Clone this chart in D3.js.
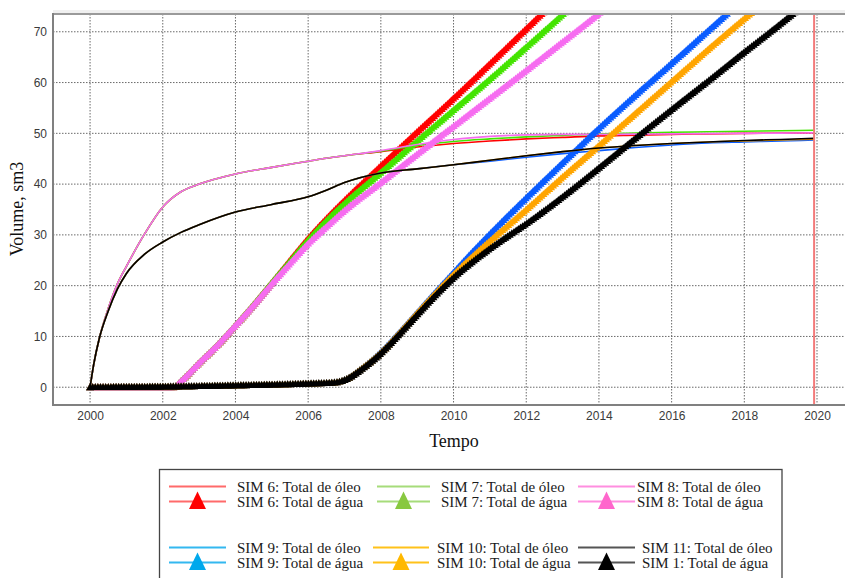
<!DOCTYPE html>
<html>
<head>
<meta charset="utf-8">
<script src="https://cdn.jsdelivr.net/npm/d3@7/dist/d3.min.js"></script>
<style>
  html, body { margin: 0; padding: 0; background: #fff; }
  svg { display: block; }
</style>
</head>
<body>
<svg id="chart" width="845" height="578"></svg>
<script>
// ---------- DATA ----------
const xTicks = [2000, 2002, 2004, 2006, 2008, 2010, 2012, 2014, 2016, 2018, 2020];
const yTicks = [0, 10, 20, 30, 40, 50, 60, 70];
const endYear = 2019.92;

const oilYears = [2000, 2000.1, 2000.25, 2000.5, 2000.75, 2001, 2001.5, 2002, 2002.5, 2003, 2004, 2005, 2006, 2006.5, 2007, 2008, 2009, 2010, 2011, 2012, 2013, 2014, 2015, 2016, 2017, 2018, 2019, 2019.92];
const sim6Oil  = [0, 4.5, 9.5, 15.5, 20.3, 23.8, 30.2, 35.5, 38.5, 40, 42, 43.3, 44.5, 45.1, 45.6, 46.4, 47.3, 48, 48.5, 48.9, 49.2, 49.5, 49.65, 49.8, 49.9, 50, 50.05, 50.1];
const sim7Oil  = [0, 4.5, 9.5, 15.5, 20.3, 23.8, 30.2, 35.5, 38.5, 40, 42, 43.3, 44.5, 45.1, 45.6, 46.5, 47.6, 48.4, 48.9, 49.3, 49.6, 49.9, 50.05, 50.2, 50.3, 50.4, 50.5, 50.6];
const sim8Oil  = [0, 4.5, 9.5, 15.5, 20.3, 23.8, 30.2, 35.5, 38.5, 40, 42, 43.3, 44.5, 45.1, 45.6, 46.6, 47.8, 48.8, 49.4, 49.7, 49.8, 49.8, 49.85, 49.9, 49.95, 50, 50.05, 50.1];
const sim9Oil  = [0, 4.5, 9.5, 15, 19.3, 22.4, 26.2, 28.6, 30.5, 32, 34.5, 36, 37.5, 38.8, 40.3, 42.2, 43, 43.8, 44.5, 45.3, 46, 46.6, 47.2, 47.7, 48.1, 48.3, 48.5, 48.7];
const sim10Oil = [0, 4.5, 9.5, 15, 19.3, 22.4, 26.2, 28.6, 30.5, 32, 34.5, 36, 37.5, 38.8, 40.3, 42.2, 43, 43.8, 44.7, 45.6, 46.4, 47.1, 47.6, 48, 48.3, 48.5, 48.7, 48.85];
const sim11Oil = [0, 4.5, 9.5, 15, 19.3, 22.4, 26.2, 28.6, 30.5, 32, 34.5, 36, 37.5, 38.8, 40.3, 42.2, 43, 43.8, 44.7, 45.6, 46.4, 47.1, 47.6, 48, 48.3, 48.6, 48.8, 49];

const waterYearsA = [2000, 2002.3, 2002.5, 2003, 2003.5, 2004, 2004.5, 2005, 2005.5, 2006, 2006.5, 2007, 2008, 2009, 2010, 2011, 2012, 2013, 2014, 2014.5];
const sim6Water = [0, 0, 1.2, 4.8, 8.3, 12.2, 16.3, 20.6, 25, 29.3, 33.2, 36.8, 43.6, 50.3, 56.9, 63.7, 70.6, 77.5, 84.5, 88];
const sim7Water = [0, 0, 1.2, 4.8, 8.3, 12.2, 16.3, 20.6, 24.8, 29, 32.8, 36.2, 42.3, 48.5, 54.6, 60.7, 67, 73.4, 80, 83.5];
const sim8Water = [0, 0, 1.2, 4.8, 8.3, 12.2, 16.2, 20.4, 24.4, 28.3, 31.6, 34.8, 40.3, 45.9, 51.4, 56.9, 62.4, 68, 73.6, 76.5];

const waterYearsB = [2000, 2002, 2004, 2006, 2006.7, 2007, 2007.5, 2008, 2008.5, 2009, 2009.5, 2010, 2010.5, 2011, 2011.5, 2012, 2013, 2014, 2015, 2016, 2017, 2018, 2019, 2019.92];
const sim9Water  = [0, 0.1, 0.35, 0.7, 0.9, 1.4, 3.8, 6.9, 10.7, 14.7, 18.7, 22.6, 26.5, 30.2, 33.8, 37.3, 44.2, 51, 57.5, 63.8, 70.2, 76.5, 82, 87];
const sim10Water = [0, 0.1, 0.35, 0.7, 0.9, 1.4, 3.8, 6.8, 10.6, 14.6, 18.5, 22.2, 25.6, 28.8, 31.9, 35, 41.4, 47.6, 53.9, 60.2, 66.5, 72.6, 78.5, 84];
const sim1Water  = [0, 0.1, 0.35, 0.7, 0.9, 1.4, 3.7, 6.7, 10.4, 14.3, 18.1, 21.6, 24.6, 27.3, 29.8, 32.2, 37.5, 43.2, 49, 54.7, 60.3, 66, 71.6, 77];

const legendLabels = [
  ["SIM 6: Total de óleo", "SIM 6: Total de água"],
  ["SIM 7: Total de óleo", "SIM 7: Total de água"],
  ["SIM 8: Total de óleo", "SIM 8: Total de água"],
  ["SIM 9: Total de óleo", "SIM 9: Total de água"],
  ["SIM 10: Total de óleo", "SIM 10: Total de água"],
  ["SIM 11: Total de óleo", "SIM 1: Total de água"]
];

// ---------- STYLE ----------
const plotColors   = ["#ff0000", "#44e400", "#f66cf0", "#0a5cff", "#ffa500", "#000000"];
const legLineCols  = ["#ff6a6a", "#a6dc7a", "#ff8ee0", "#33b8f0", "#ffc21a", "#555555"];
const legTriCols   = ["#ff0000", "#88c840", "#ff66cc", "#00a8ec", "#ffb800", "#000000"];

const svg = d3.select("#chart");
const L = 53, R = 845, T = 14, B = 405;

const x = d3.scaleLinear().domain([1998.98, 2020.77]).range([L, R]);
const y = d3.scaleLinear().domain([-3.5, 73.5]).range([B, T]);

svg.append("defs").append("clipPath").attr("id", "clip")
  .append("rect").attr("x", L).attr("y", T).attr("width", R - L).attr("height", B - T);

// top shade
svg.append("rect").attr("x", L).attr("y", T - 4).attr("width", R - L).attr("height", 4).attr("fill", "#f0f0f0");

// grid
const grid = svg.append("g");
grid.selectAll("line.v").data(xTicks).join("line")
  .attr("x1", d => x(d)).attr("x2", d => x(d)).attr("y1", T).attr("y2", B)
  .attr("stroke", "#6a6a6a").attr("stroke-width", 1).attr("stroke-dasharray", "1.5,1.5");
grid.selectAll("line.h").data(yTicks).join("line")
  .attr("x1", L).attr("x2", R).attr("y1", d => y(d)).attr("y2", d => y(d))
  .attr("stroke", "#6a6a6a").attr("stroke-width", 1).attr("stroke-dasharray", "1.5,1.5");

// axes labels via d3 axes
const xAxis = svg.append("g").attr("transform", `translate(0,${B})`)
  .call(d3.axisBottom(x).tickValues(xTicks).tickFormat(d3.format("d")).tickSize(0).tickPadding(6));
const yAxis = svg.append("g").attr("transform", `translate(${L},0)`)
  .call(d3.axisLeft(y).tickValues(yTicks).tickFormat(d3.format("d")).tickSize(0).tickPadding(6));
[xAxis, yAxis].forEach(a => {
  a.select(".domain").remove();
  a.selectAll("text").attr("font-family", "Liberation Sans, Arial, sans-serif")
    .attr("font-size", 12).attr("fill", "#3a3a3a");
});

// data layer
const plot = svg.append("g").attr("clip-path", "url(#clip)");
const line = d3.line().x(d => x(d[0])).y(d => y(d[1])).curve(d3.curveMonotoneX);
const zip = (xs, ys) => xs.map((v, i) => [v, ys[i]]);

const oilSeries = [sim6Oil, sim7Oil, sim8Oil, sim9Oil, sim10Oil, sim11Oil].map(v => zip(oilYears, v));
const waterSeries = [
  zip(waterYearsA, sim6Water), zip(waterYearsA, sim7Water), zip(waterYearsA, sim8Water),
  zip(waterYearsB, sim9Water), zip(waterYearsB, sim10Water), zip(waterYearsB, sim1Water)
];

const tri = "M0,-4 L4,2.9 L-4,2.9 Z";
for (let i = 0; i < 6; i++) {
  plot.append("path").datum(oilSeries[i]).attr("d", line)
    .attr("fill", "none").attr("stroke", plotColors[i]).attr("stroke-width", 1.6);
  const wp = plot.append("path").datum(waterSeries[i]).attr("d", line)
    .attr("fill", "none").attr("stroke", plotColors[i]).attr("stroke-width", 2.5);
  const node = wp.node();
  const len = node.getTotalLength();
  const pts = [];
  for (let s = 0; s <= len; s += 2.6) pts.push(node.getPointAtLength(s));
  plot.append("g").selectAll("path").data(pts).join("path")
    .attr("d", tri).attr("transform", p => `translate(${p.x},${p.y})`)
    .attr("fill", plotColors[i]);
}

// end-of-simulation red line
svg.append("line").attr("x1", x(endYear)).attr("x2", x(endYear)).attr("y1", T).attr("y2", B)
  .attr("stroke", "#f27a7a").attr("stroke-width", 2);

// frame
svg.append("line").attr("x1", L).attr("x2", R).attr("y1", T).attr("y2", T).attr("stroke", "#9a9a9a").attr("stroke-width", 2);
svg.append("line").attr("x1", L).attr("x2", L).attr("y1", T - 1).attr("y2", B + 1).attr("stroke", "#808080").attr("stroke-width", 2);
svg.append("line").attr("x1", L).attr("x2", R).attr("y1", B).attr("y2", B).attr("stroke", "#808080").attr("stroke-width", 2);

// axis titles
svg.append("text").attr("x", 454).attr("y", 447).attr("text-anchor", "middle")
  .attr("font-family", "Liberation Serif, Times New Roman, serif").attr("font-size", 18).attr("fill", "#111").text("Tempo");
svg.append("text").attr("transform", "translate(23,209) rotate(-90)").attr("text-anchor", "middle")
  .attr("font-family", "Liberation Serif, Times New Roman, serif").attr("font-size", 18).attr("fill", "#111").text("Volume, sm3");

// legend
const lg = svg.append("g");
lg.append("rect").attr("x", 159.5).attr("y", 469.5).attr("width", 622.5).attr("height", 120)
  .attr("fill", "#fff").attr("stroke", "#444").attr("stroke-width", 1.3);
const cols = [
  { x1: 169, x2: 226, tx: 237 }, { x1: 377, x2: 430, tx: 441 }, { x1: 578, x2: 635, tx: 637 },
  { x1: 169, x2: 226, tx: 237 }, { x1: 373, x2: 429, tx: 437 }, { x1: 578, x2: 635, tx: 642 }
];
const rowY = [[486.5, 501.5], [547.5, 562.5]];
legendLabels.forEach((lab, i) => {
  const c = cols[i];
  const ry = rowY[i < 3 ? 0 : 1];
  const g = lg.append("g");
  g.append("line").attr("x1", c.x1).attr("x2", c.x2).attr("y1", ry[0]).attr("y2", ry[0])
    .attr("stroke", legLineCols[i]).attr("stroke-width", 2);
  g.append("line").attr("x1", c.x1).attr("x2", c.x2).attr("y1", ry[1]).attr("y2", ry[1])
    .attr("stroke", legLineCols[i]).attr("stroke-width", 2);
  const cx = (c.x1 + c.x2) / 2;
  g.append("path").attr("d", `M${cx},${ry[1] - 10} L${cx + 8.5},${ry[1] + 7.5} L${cx - 8.5},${ry[1] + 7.5} Z`)
    .attr("fill", legTriCols[i]);
  lab.forEach((t, k) => {
    g.append("text").attr("x", c.tx).attr("y", ry[k] + 5)
      .attr("font-family", "Liberation Serif, Times New Roman, serif").attr("font-size", 15)
      .attr("fill", "#1a1a1a").text(t);
  });
});
</script>
</body>
</html>
